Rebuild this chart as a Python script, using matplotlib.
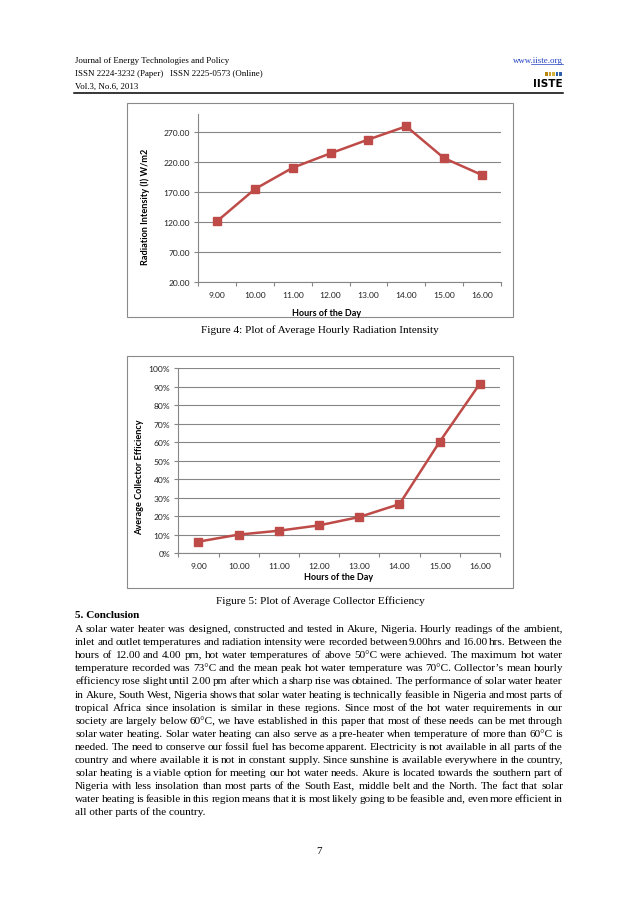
import numpy as np
import matplotlib
matplotlib.use("Agg")
import matplotlib.pyplot as plt
from matplotlib.patches import Rectangle
from matplotlib.lines import Line2D
from matplotlib.font_manager import FontProperties, findfont, get_font
from matplotlib.backends.backend_agg import get_hinting_flag

# data
hours = ["9.00", "10.00", "11.00", "12.00", "13.00", "14.00", "15.00", "16.00"]
radiation = [122, 175.5, 211, 235, 258, 280, 227, 199]
efficiency = [0.063, 0.101, 0.122, 0.151, 0.196, 0.266, 0.603, 0.917]
rad_ticks = [20, 70, 120, 170, 220, 270]
eff_ticks = [0, .1, .2, .3, .4, .5, .6, .7, .8, .9, 1.0]

header = ["Journal of Energy Technologies and Policy",
          "ISSN 2224-3232 (Paper)   ISSN 2225-0573 (Online)",
          "Vol.3, No.6, 2013"]

body = [
    "A solar water heater was designed, constructed and tested in Akure, Nigeria. Hourly readings of the ambient,",
    "inlet and outlet temperatures and radiation intensity were recorded between 9.00hrs and 16.00 hrs. Between the",
    "hours of 12.00 and 4.00 pm, hot water temperatures of above 50°C were achieved. The maximum hot water",
    "temperature recorded was 73°C and the mean peak hot water temperature was 70°C. Collector\u2019s mean hourly",
    "efficiency rose slight until 2.00 pm after which a sharp rise was obtained. The performance of solar water heater",
    "in Akure, South West, Nigeria shows that solar water heating is technically feasible in Nigeria and most parts of",
    "tropical Africa since insolation is similar in these regions. Since most of the hot water requirements in our",
    "society are largely below 60°C, we have established in this paper that most of these needs can be met through",
    "solar water heating. Solar water heating can also serve as a pre-heater when temperature of more than 60°C is",
    "needed. The need to conserve our fossil fuel has become apparent. Electricity is not available in all parts of the",
    "country and where available it is not in constant supply. Since sunshine is available everywhere in the country,",
    "solar heating is a viable option for meeting our hot water needs. Akure is located towards the southern part of",
    "Nigeria with less insolation than most parts of the South East, middle belt and the North. The fact that solar",
    "water heating is feasible in this region means that it is most likely going to be feasible and, even more efficient in",
    "all other parts of the country.",
]

W, H = 638, 903
DPI = 100
fig = plt.figure(figsize=(W / DPI, H / DPI), dpi=DPI)
serif = "Liberation Serif"
sans = "Lato"
red = "#BE4B48"
grey = "#868686"


def fx(x):
    return x / W


def fy(y):
    return 1 - y / H


def add_axes(left, right, top, bottom):
    return fig.add_axes([fx(left), fy(bottom), fx(right - left), (bottom - top) / H])


def style(ax):
    for s in ["top", "right"]:
        ax.spines[s].set_visible(False)
    for s in ["left", "bottom"]:
        ax.spines[s].set_color(grey)
        ax.spines[s].set_linewidth(0.8)
    ax.yaxis.grid(True, color=grey, lw=0.8)
    ax.set_axisbelow(True)
    ax.set_xlim(-0.5, len(hours) - 0.5)
    ax.set_xticks(range(len(hours)))
    ax.set_xticklabels(hours, fontsize=6.1, family=sans, color="#222222")
    ax.set_xticks(np.arange(-0.5, len(hours)), minor=True)
    ax.tick_params(axis="x", which="major", length=0, pad=6)
    ax.tick_params(axis="x", which="minor", length=3, color=grey, width=0.8)
    ax.tick_params(axis="y", length=3, color=grey, width=0.8, labelsize=6.1, pad=3,
                   labelcolor="#222222")
    for t in ax.get_yticklabels():
        t.set_family(sans)


# chart boxes
for (l, r, t, b) in [(127, 513, 104, 318), (127, 513, 357, 589)]:
    fig.patches.append(Rectangle((fx(l), fy(b)), fx(r - l), (b - t) / H, transform=fig.transFigure,
                                 fill=False, edgecolor="#8a8a8a", lw=0.8))

# Figure 4
ax1 = add_axes(198.3, 500.7, 115.3, 283.3)
ax1.plot(range(len(hours)), radiation, color=red, lw=1.8, marker="s", ms=5.2, mfc=red, mec=red)
ax1.set_ylim(20, 300)
ax1.set_yticks(rad_ticks)
ax1.set_yticklabels(["%.2f" % v for v in rad_ticks])
style(ax1)
fig.text(fx(145), fy(207), "Radiation Intensity (I) W/m2", rotation=90, ha="center", va="center",
         fontsize=6.6, family=sans, fontweight="bold")
fig.text(fx(327), fy(314), "Hours of the Day", ha="center", va="center",
         fontsize=6.5, family=sans, fontweight="bold")

# Figure 5
ax2 = add_axes(178.3, 500, 369.3, 554.3)
ax2.plot(range(len(hours)), efficiency, color=red, lw=1.8, marker="s", ms=5.2, mfc=red, mec=red)
ax2.set_ylim(0, 1)
ax2.set_yticks(eff_ticks)
ax2.set_yticklabels(["%d%%" % round(v * 100) for v in eff_ticks])
style(ax2)
fig.text(fx(140), fy(477), "Average Collector Efficiency", rotation=90, ha="center", va="center",
         fontsize=6.6, family=sans, fontweight="bold")
fig.text(fx(339), fy(577), "Hours of the Day", ha="center", va="center",
         fontsize=6.5, family=sans, fontweight="bold")

# header
for i, line in enumerate(header):
    fig.text(fx(75), fy(63 + i * 12.8), line, ha="left", va="baseline", fontsize=6.4, family=serif)
fig.text(fx(563), fy(63), "www.iiste.org", ha="right", va="baseline", fontsize=6.4, family=serif,
         color="#1F3FBF")
fig.lines.append(Line2D([fx(531), fx(563)], [fy(64.8), fy(64.8)], transform=fig.transFigure,
                        color="#1F3FBF", lw=0.5))
for k, c in enumerate(["#B8860B", "#C9A227", "#D4B040", "#2E5FA8", "#2E5FA8"]):
    fig.patches.append(Rectangle((fx(545 + k * 3.6), fy(77)), fx(2.6), 4 / H, transform=fig.transFigure,
                                 color=c, lw=0))
fig.text(fx(563), fy(84), "IISTE", ha="right", va="center", fontsize=7.5, family="Liberation Sans Narrow",
         fontweight="bold")
fig.lines.append(Line2D([fx(74), fx(563)], [fy(94), fy(94)], transform=fig.transFigure, color="black", lw=1.1))

fs = 8.1

# captions
fig.text(fx(320), fy(333.5), "Figure 4: Plot of Average Hourly Radiation Intensity", ha="center", va="baseline",
         fontsize=fs, family=serif)
fig.text(fx(320), fy(604.5), "Figure 5: Plot of Average Collector Efficiency", ha="center", va="baseline",
         fontsize=fs, family=serif)
fig.text(fx(75), fy(618.5), "5. Conclusion", ha="left", va="baseline", fontsize=fs, family=serif,
         fontweight="bold")

# justified body text, one text per word
renderer = fig.canvas.get_renderer()
ftfont = get_font(findfont(FontProperties(family=serif, size=fs)))


def width(s):
    t = fig.text(0, 0, s, fontsize=fs, family=serif)
    w = t.get_window_extent(renderer).width
    t.remove()
    return w


def snapped_y(word, row):
    # agg rounds each word's bitmap by its own descent; shift so every baseline lands on `row`
    ftfont.clear()
    ftfont.set_size(fs, DPI)
    ftfont.set_text(word, 0, flags=get_hinting_flag())
    d = ftfont.get_descent() / 64.0
    a = ftfont.get_width_height()[1] / 64.0 - d
    return row + int(a + d) - int(a) - d


left, right = 75, 563
for i, line in enumerate(body):
    row = round(632 + i * 13.1)
    if i == len(body) - 1:
        fig.text(fx(left), fy(snapped_y(line, row)), line, ha="left", va="baseline", fontsize=fs, family=serif)
        continue
    words = line.split(" ")
    ws = [width(w) for w in words]
    gap = (right - left - sum(ws)) / (len(words) - 1)
    x = left
    for w, wd in zip(words, ws):
        fig.text(fx(x), fy(snapped_y(w, row)), w, ha="left", va="baseline", fontsize=fs, family=serif)
        x += wd + gap

fig.text(fx(319), fy(854.5), "7", ha="center", va="baseline", fontsize=fs, family=serif)

fig.savefig("out.png", dpi=DPI)
